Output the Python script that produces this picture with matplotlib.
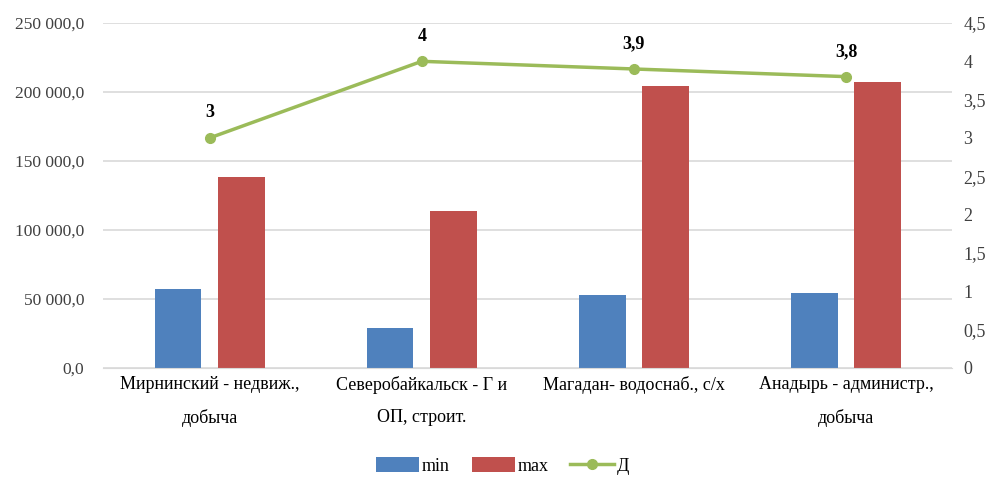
import matplotlib
matplotlib.use("Agg")
import matplotlib.pyplot as plt
import numpy as np

categories = ["Мирнинский - недвиж.,\nдобыча", "Северобайкальск - Г и\nОП, строит.",
              "Магадан- водоснаб., с/х", "Анадырь - администр.,\nдобыча"]
min_vals = [57200, 29000, 52900, 54300]
max_vals = [138400, 113800, 204300, 207200]
d_vals = [3, 4, 3.9, 3.8]
d_labels = ["3", "4", "3,9", "3,8"]

left_ticks = [0, 50000, 100000, 150000, 200000, 250000]
right_ticks = [0, 0.5, 1, 1.5, 2, 2.5, 3, 3.5, 4, 4.5]

plt.rcParams['font.family'] = ['Liberation Serif', 'DejaVu Serif']

def fmt_left(v):
    s = f"{v:,.1f}".replace(",", " ").replace(".", ",")
    return s

def fmt_right(v):
    return (f"{v:g}").replace(".", ",")

fig = plt.figure(figsize=(9.95, 4.79), dpi=100)
ax = fig.add_axes([0.104, 0.232, 0.853, 0.72])
ax2 = ax.twinx()

x = np.arange(len(categories))
w = 0.22
off = 0.149
ax.bar(x - off, min_vals, w, color="#4F81BD", label="min", zorder=2)
ax.bar(x + off, max_vals, w, color="#C0504D", label="max", zorder=2)

ax2.plot(x, d_vals, color="#9BBB59", lw=2.5, marker="o", ms=7, label="Д", zorder=3)
for xi, v, lab in zip(x, d_vals, d_labels):
    ax2.annotate(lab, (xi, v), xytext=(0, 12), textcoords="offset points",
                 ha="center", va="bottom", fontsize=13, fontweight="bold")

ax.set_xlim(-0.5, 3.5)
ax.set_ylim(0, 250000)
ax2.set_ylim(0, 4.5)
ax.set_yticks(left_ticks)
ax.set_yticklabels([fmt_left(v) for v in left_ticks])
ax2.set_yticks(right_ticks)
ax2.set_yticklabels([fmt_right(v) for v in right_ticks])
ax.set_xticks(x)
ax.set_xticklabels(categories, linespacing=2.15)

ax.grid(axis="y", color="#D9D9D9", lw=1.2, zorder=0)
ax.set_axisbelow(True)
for a in (ax, ax2):
    for s in a.spines.values():
        s.set_visible(False)
    a.tick_params(length=0, labelsize=13, colors="#404040")
ax.spines["bottom"].set_visible(True)
ax.spines["bottom"].set_color("#D9D9D9")
ax.tick_params(axis="y", pad=14, labelsize=12.5)
ax.tick_params(axis="x", pad=6, labelcolor="black")
ax2.tick_params(axis="y", pad=8)

h1, l1 = ax.get_legend_handles_labels()
h2, l2 = ax2.get_legend_handles_labels()
fig.legend(h1 + h2, l1 + l2, loc="center", bbox_to_anchor=(0.505, 0.027), ncol=3,
           frameon=False, fontsize=13, handlelength=2.4, handletextpad=0.15,
           columnspacing=1.2, handleheight=0.9)

fig.savefig("out.png", dpi=100)
